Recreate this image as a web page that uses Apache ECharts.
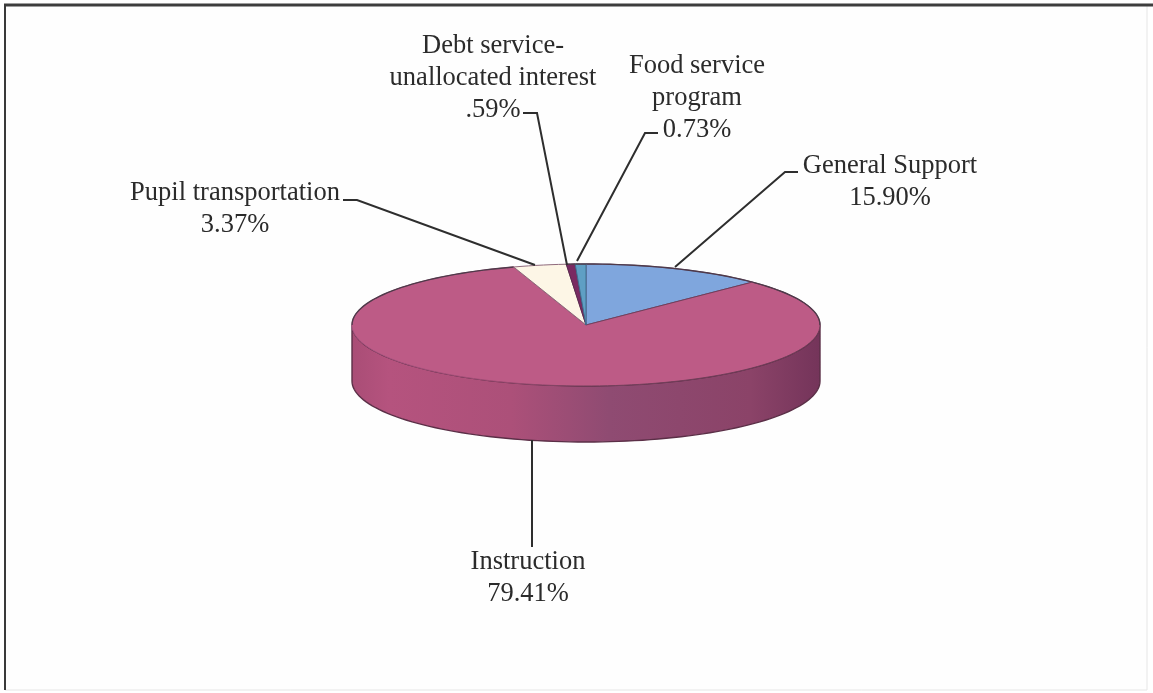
<!DOCTYPE html>
<html>
<head>
<meta charset="utf-8">
<style>html,body{margin:0;padding:0;background:#fff}#chart{width:1153px;height:693px}</style>
<script src="https://cdn.jsdelivr.net/npm/echarts@6/dist/echarts.min.js"></script>
</head>
<body>
<div id="chart"></div>
<script>
// Budget shares, clockwise from twelve o'clock
const categories = ['General Support', 'Instruction', 'Pupil transportation', 'Debt service-\nunallocated interest', 'Food service\nprogram'];
const shares = [15.90, 79.41, 3.37, 0.59, 0.73];
const shareLabels = ['15.90%', '79.41%', '3.37%', '.59%', '0.73%'];
const sliceColors = ['#7fa6dd', '#bd5b86', '#fdf6e6', '#7a2a62', '#5f9fc4'];

// Label centres and leader polylines, one per category
const labelCentres = [[890, 182], [528, 578], [235, 209], [493, 78], [697, 98]];
const leaders = [
  [[798, 172], [785, 172], [675, 267]],
  [[532, 440], [532, 547]],
  [[343, 200], [357, 200], [535, 265]],
  [[523, 113], [537, 113], [567, 265]],
  [[658, 133], [645, 133], [577, 261]]
];

// Tilted disc geometry
const disc = { cx: 586, cy: 325, rx: 234, ry: 61, depth: 56, skew: 26 };
const rad = d => d * Math.PI / 180;
// The oblique view pulls the right-hand angles back towards the viewer's axis
const viewAngle = t => t - disc.skew * (1 - Math.cos(rad(t)));
const rimPoint = (t, dy) => [
  disc.cx + disc.rx * Math.sin(rad(t)),
  disc.cy - disc.ry * Math.cos(rad(t)) + (dy || 0)
];
const arc = (from, to, dy) => {
  const pts = [];
  const n = Math.max(2, Math.ceil(Math.abs(to - from) / 2));
  for (let i = 0; i <= n; i++) pts.push(rimPoint(from + (to - from) * i / n, dy));
  return pts;
};

const total = shares.reduce((a, b) => a + b, 0);
let running = 0;
const sliceRanges = shares.map(v => {
  const start = running / total * 360;
  running += v;
  return [start, running / total * 360];
});

const wallFill = new echarts.graphic.LinearGradient(0, 0, 1, 0, [
  { offset: 0, color: '#a94d76' },
  { offset: 0.08, color: '#b5537e' },
  { offset: 0.34, color: '#ac5079' },
  { offset: 0.55, color: '#8f4b72' },
  { offset: 0.85, color: '#8b4368' },
  { offset: 1, color: '#74345a' }
]);
// The near rim fades out on the lit left side and darkens towards the right
const faceEdge = new echarts.graphic.LinearGradient(0, 0, 1, 0, [
  { offset: 0, color: '#a85380' },
  { offset: 0.3, color: '#a24c75' },
  { offset: 0.5, color: '#75405c' },
  { offset: 1, color: '#6c3a55' }
]);
const sliceEdges = ['#5a4f78', faceEdge, '#8f6a7c', '#5a2a50', '#3f6f90'];
const backRim = '#4f3a4a';

function renderSlice(params, api) {
  const i = params.dataIndex;
  const [a0, a1] = sliceRanges[i].map(viewAngle);
  const children = [];
  // Outer wall of whatever part of the slice faces the viewer
  const w0 = Math.max(a0, 90), w1 = Math.min(a1, 270);
  if (w1 > w0) {
    children.push({
      type: 'polygon',
      shape: { points: arc(w0, w1, 0).concat(arc(w1, w0, disc.depth)) },
      style: { fill: wallFill, stroke: '#5b2f47', lineWidth: 1.4 }
    });
  }
  // Top face
  children.push({
    type: 'polygon',
    shape: { points: [[disc.cx, disc.cy]].concat(arc(a0, a1, 0)) },
    style: { fill: sliceColors[i], stroke: sliceEdges[i], lineWidth: 1 }
  });
  // Far rim of the face, left and right of twelve o'clock
  [[a0, Math.min(a1, 90)], [Math.max(a0, 270), a1]].forEach(([from, to]) => {
    if (to > from && i !== 2) {
      children.push({
        type: 'polyline',
        shape: { points: arc(from, to, 0) },
        style: { fill: 'none', stroke: backRim, lineWidth: 1.4 }
      });
    }
  });
  return { type: 'group', children };
}

function renderLabel(params, api) {
  const i = params.dataIndex;
  const pts = leaders[i];
  return {
    type: 'group',
    children: [
      {
        type: 'polyline',
        shape: { points: pts },
        style: { fill: 'none', stroke: '#2e2e2e', lineWidth: 2 }
      },
      {
        type: 'text',
        x: labelCentres[i][0],
        y: labelCentres[i][1],
        style: {
          text: categories[i] + '\n' + shareLabels[i],
          fontFamily: '"Liberation Serif", serif',
          fontSize: 26.5,
          lineHeight: 32,
          fill: '#2b2b2b',
          align: 'center',
          verticalAlign: 'middle'
        }
      }
    ]
  };
}

const chart = echarts.init(document.getElementById('chart'), null, { renderer: 'canvas' });
chart.setOption({
  animation: false,
  backgroundColor: '#ffffff',
  graphic: {
    elements: [
      { type: 'rect', shape: { x: 5, y: 5, width: 1142, height: 685 },
        style: { fill: '#fefefe', stroke: '#e6e6e6', lineWidth: 1 }, silent: true },
      { type: 'line', shape: { x1: 4, y1: 5, x2: 1153, y2: 5 },
        style: { stroke: '#3d3d3d', lineWidth: 3 }, silent: true },
      { type: 'line', shape: { x1: 5, y1: 4, x2: 5, y2: 690 },
        style: { stroke: '#3a3a3a', lineWidth: 2 }, silent: true }
    ]
  },
  series: [
    {
      type: 'custom',
      coordinateSystem: 'none',
      renderItem: renderSlice,
      data: shares.map((v, i) => ({ name: categories[i], value: [v] })),
      z: 2
    },
    {
      type: 'custom',
      coordinateSystem: 'none',
      renderItem: renderLabel,
      data: shares.map((v, i) => ({ name: categories[i], value: [v] })),
      z: 3
    }
  ]
});
</script>
</body>
</html>
